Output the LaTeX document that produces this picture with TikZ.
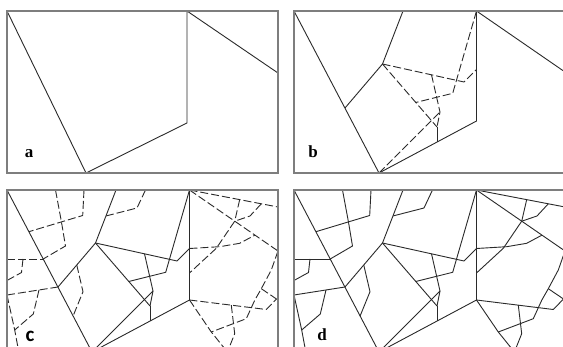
\documentclass[tikz,border=0pt]{standalone}
\usepackage{fontspec}
\newfontfamily\lblserif{Liberation Serif}
\newfontfamily\lblsans{Carlito}
\definecolor{framegray}{HTML}{7E7E7E}
\definecolor{inkgray}{HTML}{2A2A2A}
\newcommand\stdgeom{%
  \coordinate (A) at (0,0);
  \coordinate (B) at (85,162);
  \coordinate (C) at (182.5,110);
  \coordinate (D) at (182.5,0);
  \coordinate (E) at (271,61);
  \coordinate (P) at (109,0);
  \coordinate (Q) at (88.5,53);
  \coordinate (R) at (51,97);
  \coordinate (S) at (170,71);
  \coordinate (T) at (182.5,58.5);
  \coordinate (W) at (158.7,82.3);
  \coordinate (X) at (121.8,91.5);
  \coordinate (Y) at (143,116);
  \coordinate (Z) at (143,131);
  \coordinate (V) at (146,101);
  \coordinate (K) at (137.5,63.8);
}
\newcommand\extgeom{%
  \coordinate (F) at (36.2,69);
  \coordinate (c1) at (0,69);
  \coordinate (c2) at (16,69);
  \coordinate (c3) at (14.5,82.5);
  \coordinate (c4) at (0,90.5);
  \coordinate (c5) at (0,105);
  \coordinate (c6) at (32,100);
  \coordinate (c7) at (26.3,124);
  \coordinate (G) at (7.7,140);
  \coordinate (c8) at (11.8,162);
  \coordinate (c9) at (48.5,0);
  \coordinate (c10) at (54.4,31.7);
  \coordinate (c11) at (58.5,56);
  \coordinate (c12) at (77,0);
  \coordinate (c13) at (75.7,25.5);
  \coordinate (c14) at (21.9,41.7);
  \coordinate (c15) at (138.5,0);
  \coordinate (c16) at (130,18);
  \coordinate (c17) at (98.9,26);
  \coordinate (c18) at (69.75,75);
  \coordinate (c19) at (76,101.7);
  \coordinate (c20) at (66.1,126);
  \coordinate (E2) at (271,17);
  \coordinate (c21) at (232.7,9.6);
  \coordinate (H) at (227.7,31.2);
  \coordinate (c22) at (254.3,13.8);
  \coordinate (c23) at (243,26);
  \coordinate (c24) at (209.3,58.3);
  \coordinate (c25) at (182.5,83);
  \coordinate (c26) at (212.7,56.7);
  \coordinate (c27) at (232.7,53.3);
  \coordinate (c28) at (248,45.1);
  \coordinate (c29) at (264.3,80);
  \coordinate (c30) at (254.3,98.7);
  \coordinate (c31) at (247.7,110.3);
  \coordinate (c32) at (239.3,128.7);
  \coordinate (N) at (204.3,142);
  \coordinate (M) at (269.5,109);
  \coordinate (c34) at (259.3,119.5);
  \coordinate (c35) at (224.3,115.2);
  \coordinate (c36) at (227.7,143.7);
  \coordinate (Nb) at (220.4,162);
}
% b-level lines (#1 = style)
\newcommand\blevel[1]{%
  \draw[#1] (Q) -- (S) -- (T);
  \draw[#1] (D) -- (W) -- (X);
  \draw[#1] (Q) -- (X) -- (Y);
  \draw[#1] (K) -- (V) -- (Y);
  \draw[#1] (B) -- (V);
}
% c-level lines (#1 = style)
\newcommand\clevel[1]{%
  \draw[#1] (c1) -- (F);
  \draw[#1] (c2) -- (c3) -- (c4);
  \draw[#1] (c5) -- (R);
  \draw[#1] (c6) -- (c7) -- (G);
  \draw[#1] (c5) -- (G) -- (c8);
  \draw[#1] (c9) -- (c10) -- (c11) -- (F);
  \draw[#1] (c12) -- (c13) -- (c14);
  \draw[#1] (c15) -- (c16) -- (c17);
  \draw[#1] (c18) -- (c19) -- (c20);
  \draw[#1] (D) -- (E2);
  \draw[#1] (c21) -- (H);
  \draw[#1] (c22) -- (c23) -- (H);
  \draw[#1] (H) -- (c24) -- (c25);
  \draw[#1] (T) -- (c26) -- (c27) -- (c28);
  \draw[#1] (E) -- (c29) -- (c30) -- (c31) -- (c32) -- (N);
  \draw[#1] (c30) -- (M);
  \draw[#1] (C) -- (c34) -- (M);
  \draw[#1] (c35) -- (c36) -- (Nb);
  \draw[#1] (C) -- (N) -- (Nb);
}
\begin{document}
\begin{tikzpicture}[x=1pt,y=-1pt,
  panelframe/.style={draw=framegray,line width=1.2pt},
  edge/.style={draw=inkgray,line width=0.9pt,line join=round,line cap=butt},
  dashedge/.style={edge,dash pattern=on 8pt off 3pt},
  lbl/.style={font=\lblserif\bfseries\fontsize{17}{17}\selectfont,text=black,inner sep=0pt}]
\useasboundingbox (0,0) rectangle (563,347);
\fill[white] (0,0) rectangle (563,347);
\clip (0,0) rectangle (563,347);

% ---------- panel a ----------
\begin{scope}[shift={(7,11)}, name prefix=a-]
  \coordinate (A) at (0,0);
  \coordinate (B) at (79,162);
  \coordinate (C) at (180,112);
  \coordinate (D) at (180,0);
  \coordinate (E) at (271,62);
  \coordinate (BR) at (271,162);
  \draw[edge] (A) -- (B) -- (C) -- (D) -- (E);
  \draw[panelframe] (A) rectangle (BR);
\end{scope}
\node[lbl] (la) at (29,154) {a};

% ---------- panel b ----------
\begin{scope}[shift={(294,11)}, name prefix=b-]
  \stdgeom
  \coordinate (BR) at (271,162);
  \draw[edge] (A) -- (B) -- (C) -- (D) -- (E);
  \draw[edge] (P) -- (Q) -- (R);
  \draw[edge] (Y) -- (Z);
  \blevel{dashedge}
  \draw[panelframe] (A) rectangle (BR);
\end{scope}
\node[lbl] (lb) at (313,152) {b};

% ---------- panel c ----------
\begin{scope}[shift={(7,190)}, name prefix=c-]
  \stdgeom
  \extgeom
  \coordinate (BR) at (271,162);
  \draw[edge] (A) -- (B) -- (C) -- (D);
  \draw[dashedge] (D) -- (E);
  \draw[edge] (P) -- (Q) -- (R);
  \draw[edge] (Y) -- (Z);
  \blevel{edge}
  \clevel{dashedge}
  \draw[panelframe] (A) rectangle (BR);
\end{scope}
\node[lbl,font=\lblsans\bfseries\fontsize{21}{21}\selectfont] (lc) at (30,336) {c};

% ---------- panel d ----------
\begin{scope}[shift={(294,190)}, name prefix=d-]
  \stdgeom
  \extgeom
  \coordinate (BR) at (271,162);
  \draw[edge] (A) -- (B) -- (C) -- (D) -- (E);
  \draw[edge] (P) -- (Q) -- (R);
  \draw[edge] (Y) -- (Z);
  \blevel{edge}
  \clevel{edge}
  \draw[panelframe] (A) rectangle (BR);
\end{scope}
\node[lbl] (ld) at (322,335) {d};
\end{tikzpicture}
\end{document}
